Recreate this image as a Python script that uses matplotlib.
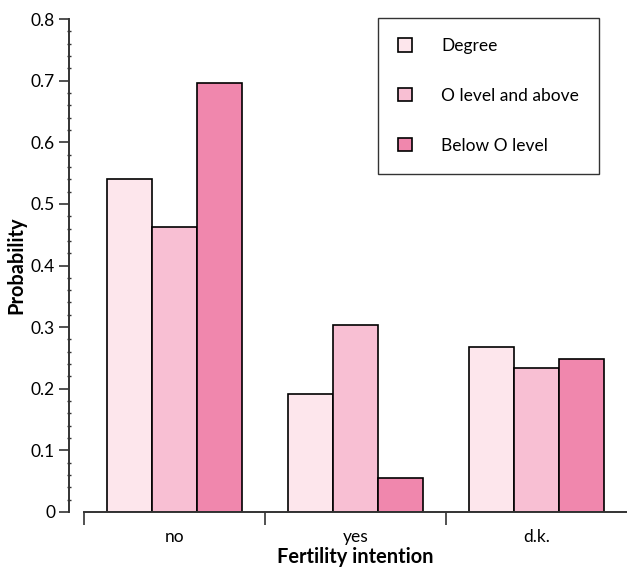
import numpy as np
import matplotlib
matplotlib.use("Agg")
import matplotlib.pyplot as plt
from matplotlib.ticker import MultipleLocator

plt.rcParams['font.family'] = ['Lato', 'DejaVu Sans']

# -------- data --------
groups = ["no", "yes", "d.k."]
education = ["Degree", "O level and above", "Below O level"]
degree = [0.540, 0.192, 0.268]
o_level = [0.462, 0.304, 0.234]
below_o = [0.696, 0.055, 0.249]
colors = ["#fde6ec", "#f8bfd3", "#f087ad"]

series = [degree, o_level, below_o]

# -------- figure --------
fig = plt.figure(figsize=(6.27, 5.69), dpi=100)
W, H = 627, 569
ax = fig.add_axes([84 / W, 57 / H, (W - 84) / W, (512 - 19) / H])

x = np.arange(len(groups))
bw = 0.25
for i, (vals, lab, col) in enumerate(zip(series, education, colors)):
    ax.bar(x + (i - 1) * bw, vals, bw, color=col, edgecolor="black",
           linewidth=1.2, label=lab, zorder=2)

ax.set_xlim(-0.5, 2.5)
ax.set_ylim(0, 0.8)

# spines
for s in ["top", "right"]:
    ax.spines[s].set_visible(False)
ax.spines["left"].set_position(("outward", 10.8))
ax.spines["left"].set_color("#333333")
ax.spines["bottom"].set_color("#333333")
ax.spines["left"].set_linewidth(1.4)
ax.spines["bottom"].set_linewidth(1.4)

# y ticks
ax.yaxis.set_minor_locator(MultipleLocator(0.02))
ax.set_yticks(np.arange(0, 0.81, 0.1))
ax.set_yticklabels(["0"] + [f"{v:.1f}" for v in np.arange(0.1, 0.81, 0.1)])
ax.tick_params(axis="y", which="major", direction="out", length=7, width=1.2,
               color="#333333", labelsize=12.5, pad=3)
ax.tick_params(axis="y", which="minor", direction="inout", length=3, width=1.0,
               color="#333333")

# x ticks: boundaries as major ticks, group names as minor labels
ax.set_xticks([-0.5, 0.5, 1.5])
ax.set_xticklabels([])
ax.set_xticks(x, minor=True)
ax.set_xticklabels(groups, minor=True)
ax.tick_params(axis="x", which="major", direction="out", length=9, width=1.2,
               color="#333333")
ax.tick_params(axis="x", which="minor", length=0, labelsize=12.5, pad=12)

ax.set_xlabel("Fertility intention", fontsize=14.4, fontweight="bold", labelpad=1.5)
ax.set_ylabel("Probability", fontsize=14.4, fontweight="bold", labelpad=3)

leg = fig.legend(loc="upper left", bbox_to_anchor=(378 / W, 1 - 18 / H),
                 frameon=True, fancybox=False, edgecolor="black",
                 fontsize=12.5, handlelength=0.8, handleheight=0.8,
                 handletextpad=1.7, labelspacing=1.95, borderpad=1.15,
                 borderaxespad=0)
leg.get_frame().set_linewidth(1.0)

fig.savefig("out.png", dpi=100)
